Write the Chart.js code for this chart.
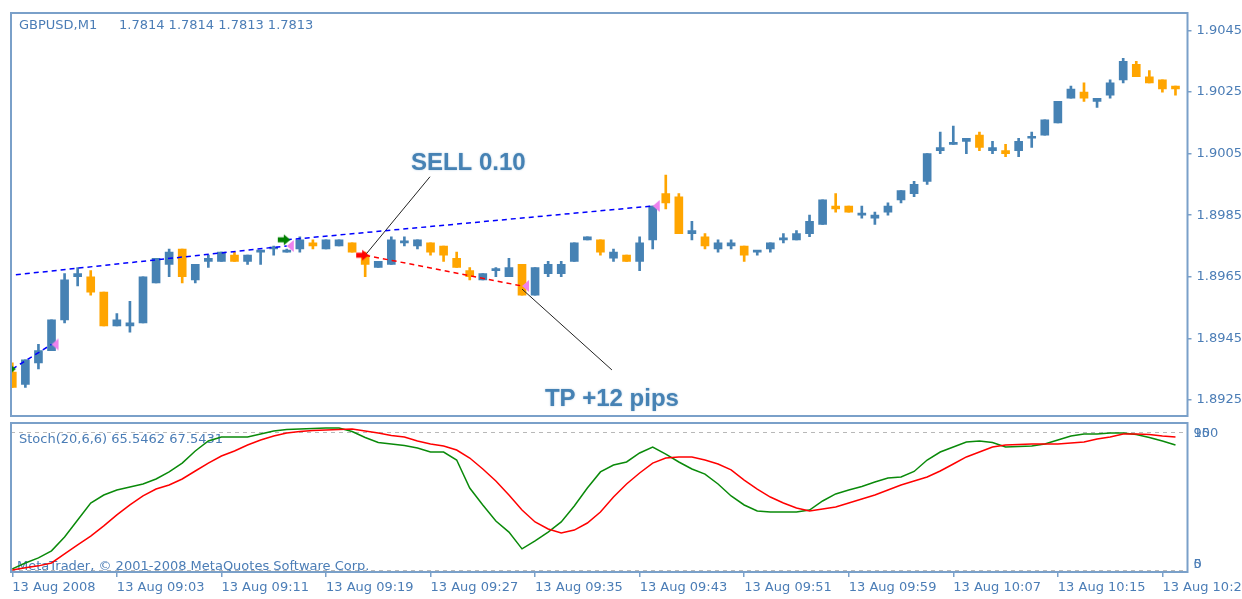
<!DOCTYPE html>
<html><head><meta charset="utf-8">
<script src="https://cdn.jsdelivr.net/npm/chart.js@4.4.1/dist/chart.umd.min.js"></script>
<style>
html,body{margin:0;padding:0;background:#fff;overflow:hidden;}
#wrap{position:relative;width:1242px;height:599px;background:#fff;}
canvas{position:absolute;left:0;}
#cMain{top:0;}
#cStoch{top:421px;}
</style></head><body>
<div id="wrap"><canvas id="cMain" width="1242" height="421"></canvas><canvas id="cStoch" width="1242" height="178"></canvas></div>
<script>
// ---------- text ----------
const symbolTitle = 'GBPUSD,M1';
const quoteTitle = '1.7814 1.7814 1.7813 1.7813';
const stochTitle = 'Stoch(20,6,6) 65.5462 67.5431';
const copyright = 'MetaTrader, \u00A9 2001-2008 MetaQuotes Software Corp.';

// ---------- axes ----------
const xTickBars = [0, 8, 16, 24, 32, 40, 48, 56, 64, 72, 80, 88];
const xTickLabels = ['13 Aug 2008', '13 Aug 09:03', '13 Aug 09:11', '13 Aug 09:19', '13 Aug 09:27', '13 Aug 09:35',
  '13 Aug 09:43', '13 Aug 09:51', '13 Aug 09:59', '13 Aug 10:07', '13 Aug 10:15', '13 Aug 10:23'];
const priceTicks = [1.8925, 1.8945, 1.8965, 1.8985, 1.9005, 1.9025, 1.9045];
const stochLevels = [5, 95];
const stochScaleLabels = ['100', '95', '0', '5'];
const stochScaleAt = [95, 95, 5, 5];

// ---------- candles (one per minute, 08:55 .. 10:24) ----------
const opens = [
1.8934,1.8930,1.8937,1.8941,1.8951,1.8965,1.8965,1.8960,1.8949,1.8949,
1.8950,1.8963,1.8969,1.8974,1.8964,1.8970,1.8970,1.8972,1.8970,1.8973,
1.8974,1.8973,1.8974,1.8976,1.8974,1.8975,1.8976,1.8972,1.8968,1.8969,
1.8976,1.8975,1.8976,1.8975,1.8971,1.8967,1.8964,1.8967,1.8965,1.8969,
1.8959,1.8966,1.8966,1.8970,1.8977,1.8977,1.8971,1.8972,1.8970,1.8977,
1.8992,1.8991,1.8979,1.8978,1.8974,1.8975,1.8975,1.8973,1.8974,1.8977,
1.8977,1.8979,1.8982,1.8988,1.8988,1.8985,1.8984,1.8986,1.8990,1.8992,
1.8996,1.9006,1.9008,1.9009,1.9011,1.9006,1.9006,1.9006,1.9010,1.9011,
1.9015,1.9023,1.9025,1.9022,1.9024,1.9029,1.9034,1.9030,1.9029,1.9027];
const highs = [
1.8937,1.8938,1.8943,1.8951,1.8966,1.8968,1.8967,1.8960,1.8953,1.8957,
1.8965,1.8971,1.8974,1.8974,1.8969,1.8972,1.8973,1.8973,1.8972,1.8973,
1.8975,1.8974,1.8978,1.8977,1.8977,1.8977,1.8976,1.8973,1.8970,1.8978,
1.8978,1.8977,1.8976,1.8975,1.8973,1.8968,1.8966,1.8968,1.8971,1.8969,
1.8968,1.8970,1.8970,1.8976,1.8978,1.8977,1.8974,1.8972,1.8978,1.8988,
1.8998,1.8992,1.8983,1.8979,1.8977,1.8977,1.8975,1.8973,1.8976,1.8979,
1.8980,1.8985,1.8990,1.8992,1.8988,1.8988,1.8986,1.8989,1.8993,1.8996,
1.9005,1.9012,1.9014,1.9010,1.9012,1.9009,1.9008,1.9010,1.9012,1.9016,
1.9022,1.9027,1.9028,1.9023,1.9029,1.9036,1.9035,1.9032,1.9029,1.9027];
const lows = [
1.8929,1.8929,1.8935,1.8941,1.8950,1.8962,1.8959,1.8949,1.8949,1.8947,
1.8950,1.8963,1.8965,1.8963,1.8963,1.8968,1.8970,1.8970,1.8969,1.8969,
1.8972,1.8973,1.8973,1.8974,1.8974,1.8975,1.8973,1.8965,1.8968,1.8969,
1.8975,1.8974,1.8972,1.8970,1.8968,1.8964,1.8964,1.8965,1.8965,1.8959,
1.8959,1.8965,1.8965,1.8970,1.8977,1.8972,1.8970,1.8970,1.8967,1.8974,
1.8987,1.8979,1.8977,1.8974,1.8973,1.8974,1.8970,1.8972,1.8973,1.8976,
1.8977,1.8978,1.8982,1.8986,1.8986,1.8984,1.8982,1.8985,1.8989,1.8991,
1.8995,1.9005,1.9008,1.9005,1.9006,1.9005,1.9004,1.9004,1.9007,1.9011,
1.9015,1.9023,1.9022,1.9020,1.9023,1.9028,1.9030,1.9028,1.9025,1.9024];
const closes = [
1.8929,1.8938,1.8941,1.8951,1.8964,1.8966,1.8960,1.8949,1.8951,1.8950,
1.8965,1.8971,1.8973,1.8965,1.8969,1.8971,1.8973,1.8970,1.8972,1.8973,
1.8974,1.8973,1.8977,1.8975,1.8977,1.8977,1.8973,1.8969,1.8970,1.8977,
1.8976,1.8977,1.8973,1.8972,1.8968,1.8965,1.8966,1.8967,1.8968,1.8959,
1.8968,1.8969,1.8969,1.8976,1.8978,1.8973,1.8973,1.8970,1.8976,1.8988,
1.8989,1.8979,1.8980,1.8975,1.8976,1.8976,1.8972,1.8973,1.8976,1.8977,
1.8979,1.8983,1.8990,1.8987,1.8986,1.8985,1.8985,1.8988,1.8993,1.8995,
1.9005,1.9007,1.9008,1.9010,1.9007,1.9007,1.9005,1.9009,1.9010,1.9016,
1.9022,1.9026,1.9023,1.9023,1.9028,1.9035,1.9030,1.9028,1.9026,1.9026];

// ---------- stochastic ----------
const stochMain = [
5.7,9.6,12.9,17.5,26.6,37.7,48.8,54.0,57.3,59.2,
61.2,64.5,69.1,74.9,82.8,89.3,91.9,91.9,91.9,93.9,
95.8,96.8,97.2,97.5,97.8,97.8,95.5,91.6,88.3,87.4,
86.4,84.7,82.1,82.1,76.9,58.6,47.5,37.0,29.8,18.8,
24.0,29.8,36.4,46.8,58.6,69.1,73.6,75.6,81.5,85.4,
80.8,75.6,71.0,67.7,61.2,53.4,47.5,43.6,42.9,42.9,
42.9,44.2,50.1,54.7,57.3,59.6,62.5,65.1,65.8,69.4,
76.9,82.1,85.4,88.7,89.3,88.3,85.4,85.7,86.0,87.4,
90.0,92.6,93.9,93.9,94.5,94.5,93.6,91.6,89.3,86.7];
const stochSignal = [
5.0,6.4,7.7,9.6,15.5,21.4,27.2,33.8,41.0,47.5,
53.4,57.9,60.6,64.5,69.7,74.9,79.5,82.8,86.7,90.0,
92.6,94.5,95.5,96.2,96.5,96.8,97.2,95.8,94.5,92.9,
91.9,89.3,87.4,86.0,83.4,78.2,71.0,63.2,54.0,44.2,
36.4,31.8,29.2,31.1,35.7,42.9,52.7,61.2,68.4,74.9,
78.2,78.9,78.9,76.9,74.3,70.4,63.8,57.9,52.7,48.8,
45.5,43.6,44.9,46.2,48.8,51.4,54.0,57.3,60.6,63.2,
65.8,69.7,74.3,78.9,82.1,85.4,86.7,87.0,87.4,87.4,
87.4,88.0,88.7,90.6,91.9,93.9,93.9,93.6,92.6,91.9];

// ---------- trade history ----------
const tradeType = ['buy', 'buy', 'buy', 'sell'];
const tradeOpenBar = [0, -10, 21, 27];
const tradeOpenPrice = [1.8935, 1.8961, 1.8977, 1.8972];
const tradeCloseBar = [3, 21, 49, 39];
const tradeClosePrice = [1.8943, 1.8975, 1.8988, 1.8962];

// ---------- annotations ----------
const noteText = ['SELL 0.10', 'TP +12 pips'];
const noteBar = [30.5, 40.75];
const notePrice = [1.89997, 1.89230];
const pointerFromBar = [31.96, 45.88];
const pointerFromPrice = [1.89975, 1.89347];
const pointerToBar = [27, 39];
const pointerToPrice = [1.8972, 1.8961];

// ---------- style ----------
const UP = '#4682b4', DOWN = '#ffa500';
const BORDER = '#7aa0c9', TEXT = '#4b7db6';
const X_MIN = -0.1, X_MAX = 89.92;

Chart.defaults.font.family = '"DejaVu Sans"';
Chart.defaults.font.size = 13;

function makeArrow(color) {
  const c = document.createElement('canvas'); c.width = 24; c.height = 14;
  const g = c.getContext('2d'); g.fillStyle = color;
  g.beginPath(); g.moveTo(9, 1.5); g.lineTo(15.5, 7); g.lineTo(9, 12.5); g.closePath(); g.fill();
  g.fillRect(3, 4.5, 7, 5);
  return c;
}
function makeCloseMark(color) {
  const c = document.createElement('canvas'); c.width = 20; c.height = 14;
  const g = c.getContext('2d'); g.fillStyle = color;
  g.beginPath(); g.moveTo(10, 7); g.lineTo(17, 1); g.lineTo(17, 13); g.closePath(); g.fill();
  return c;
}
const buyArrow = makeArrow('#008000');
const sellArrow = makeArrow('#ff0000');
const closeMark = makeCloseMark('#ee82ee');

const candleColor = opens.map((o, i) => closes[i] >= o ? UP : DOWN);
const wickData = lows.map((l, i) => ({x: i, y: [l, highs[i]]}));
const bodyData = opens.map((o, i) => ({x: i, y: [o, closes[i]]}));

const tradeLineSets = tradeType.map((t, k) => ({
  type: 'line',
  data: [{x: tradeOpenBar[k], y: tradeOpenPrice[k]}, {x: tradeCloseBar[k], y: tradeClosePrice[k]}],
  borderColor: t === 'buy' ? '#0000ff' : '#ff0000',
  borderWidth: 1.5, borderDash: [5, 4], pointRadius: 0, clip: 0, order: 1
}));
const pointerSets = noteText.map((t, k) => ({
  type: 'line',
  data: [{x: pointerFromBar[k], y: pointerFromPrice[k]}, {x: pointerToBar[k], y: pointerToPrice[k]}],
  borderColor: '#222222', borderWidth: 1, pointRadius: 0, clip: 0, order: 1
}));
const buyOpenData = [], sellOpenData = [], closeData = [];
tradeType.forEach((t, k) => {
  (t === 'buy' ? buyOpenData : sellOpenData).push({x: tradeOpenBar[k], y: tradeOpenPrice[k]});
  closeData.push({x: tradeCloseBar[k], y: tradeClosePrice[k]});
});
const markerSet = (data, img) => ({type: 'line', data, showLine: false, pointStyle: img, pointRadius: 4,
  pointHoverRadius: 4, clip: 0, order: 0});

function fixWidth(w) {
  return s => { s.width = w; s.paddingTop = 0; s.paddingBottom = 0; s.paddingLeft = 0; s.paddingRight = 0; };
}
function fixHeight(h) {
  return s => { s.height = h; s.paddingTop = 0; s.paddingBottom = 0; s.paddingLeft = 0; s.paddingRight = 0; };
}

const mainDecor = {
  id: 'mainDecor',
  beforeDatasetsDraw(chart) {
    const {ctx, chartArea: a} = chart;
    ctx.save();
    ctx.font = '13px "DejaVu Sans"'; ctx.fillStyle = TEXT; ctx.textBaseline = 'middle';
    ctx.fillText(symbolTitle, a.left + 8, a.top + 13);
    ctx.fillText(quoteTitle, a.left + 108, a.top + 13);
    ctx.restore();
  },
  afterDraw(chart) {
    const {ctx, chartArea: a, scales: {x, y}} = chart;
    ctx.save();
    ctx.font = 'bold 24px "Liberation Sans"'; ctx.fillStyle = '#4682b4';
    ctx.textBaseline = 'alphabetic'; ctx.textAlign = 'left';
    ctx.shadowColor = 'rgba(70,130,180,0.45)'; ctx.shadowBlur = 2;
    noteText.forEach((t, k) => ctx.fillText(t, x.getPixelForValue(noteBar[k]), y.getPixelForValue(notePrice[k])));
    ctx.shadowBlur = 0; ctx.shadowColor = 'transparent';
    ctx.strokeStyle = BORDER; ctx.lineWidth = 2;
    ctx.strokeRect(a.left, a.top, a.right - a.left, a.bottom - a.top);
    ctx.restore();
  }
};

new Chart(document.getElementById('cMain'), {
  type: 'bar',
  data: {
    datasets: [
      markerSet(closeData, closeMark),
      markerSet(buyOpenData, buyArrow),
      markerSet(sellOpenData, sellArrow),
      ...tradeLineSets,
      ...pointerSets,
      {type: 'bar', data: bodyData, backgroundColor: candleColor, barThickness: 8, grouped: false,
        minBarLength: 2, borderWidth: 0, clip: 0, order: 2},
      {type: 'bar', data: wickData, backgroundColor: candleColor, barThickness: 2, grouped: false,
        borderWidth: 0, clip: 0, order: 3}
    ]
  },
  options: {
    responsive: false, animation: false, events: [], devicePixelRatio: 1,
    layout: {padding: {left: 11, top: 13, right: 0, bottom: 2}},
    plugins: {legend: {display: false}, tooltip: {enabled: false}},
    scales: {
      x: {type: 'linear', display: false, min: X_MIN, max: X_MAX, offset: false, grid: {offset: false}},
      y: {
        type: 'linear', position: 'right', min: 1.891974, max: 1.905071, beginAtZero: false,
        afterBuildTicks: s => { s.ticks = priceTicks.map(v => ({value: v})); },
        afterFit: fixWidth(54.5),
        ticks: {color: TEXT, padding: 5, font: {size: 13}, callback: v => Number(v).toFixed(4)},
        grid: {drawOnChartArea: false, drawTicks: true, tickLength: 4, color: BORDER, lineWidth: 1.5},
        border: {display: false}
      }
    }
  },
  plugins: [mainDecor]
});

const stochDecor = {
  id: 'stochDecor',
  beforeDatasetsDraw(chart) {
    const {ctx, chartArea: a, scales: {y}} = chart;
    ctx.save();
    ctx.strokeStyle = '#b8b8b8'; ctx.lineWidth = 1; ctx.setLineDash([4, 4]);
    stochLevels.forEach(v => {
      const py = Math.round(y.getPixelForValue(v)) + 0.5;
      ctx.beginPath(); ctx.moveTo(a.left, py); ctx.lineTo(a.right, py); ctx.stroke();
    });
    ctx.setLineDash([]);
    ctx.font = '13px "DejaVu Sans"'; ctx.fillStyle = TEXT; ctx.textBaseline = 'middle';
    ctx.fillText(stochTitle, a.left + 8, a.top + 17);
    ctx.fillText(copyright, a.left + 6, a.bottom - 5);
    ctx.restore();
  },
  afterDraw(chart) {
    const {ctx, chartArea: a, scales: {y}} = chart;
    ctx.save();
    ctx.strokeStyle = BORDER; ctx.lineWidth = 2;
    ctx.strokeRect(a.left, a.top, a.right - a.left, a.bottom - a.top);
    ctx.font = '13px "DejaVu Sans"'; ctx.fillStyle = TEXT; ctx.textBaseline = 'middle'; ctx.textAlign = 'left';
    stochScaleLabels.forEach((t, k) => {
      let py = y.getPixelForValue(stochScaleAt[k]);
      py = Math.max(a.top + 7, Math.min(a.bottom - 8, py));
      ctx.fillText(t, a.right + 6, py + 1);
    });
    ctx.restore();
  }
};

new Chart(document.getElementById('cStoch'), {
  type: 'line',
  data: {
    datasets: [
      {data: stochSignal.map((v, i) => ({x: i, y: v})), borderColor: '#ff0000', borderWidth: 1.5,
        pointRadius: 0, tension: 0, order: 0},
      {data: stochMain.map((v, i) => ({x: i, y: v})), borderColor: '#0a8a0a', borderWidth: 1.5,
        pointRadius: 0, tension: 0, order: 1}
    ]
  },
  options: {
    responsive: false, animation: false, events: [], devicePixelRatio: 1,
    layout: {padding: {left: 11, top: 2, right: 0, bottom: 0}},
    plugins: {legend: {display: false}, tooltip: {enabled: false}},
    scales: {
      x: {
        type: 'linear', position: 'bottom', min: X_MIN, max: X_MAX, offset: false,
        afterBuildTicks: s => { s.ticks = xTickBars.map(v => ({value: v})); },
        afterFit: fixHeight(27),
        ticks: {color: TEXT, align: 'start', padding: 3, autoSkip: false, maxRotation: 0, minRotation: 0,
          font: {size: 13}, callback: (v, i) => xTickLabels[i]},
        grid: {drawOnChartArea: false, drawTicks: true, tickLength: 5, color: BORDER, lineWidth: 1.5, offset: false},
        border: {display: false}
      },
      y: {
        type: 'linear', position: 'right', min: 3.69, max: 101.08,
        afterFit: fixWidth(54.5),
        ticks: {display: false}, grid: {display: false}, border: {display: false}
      }
    }
  },
  plugins: [stochDecor]
});
</script>
</body></html>
